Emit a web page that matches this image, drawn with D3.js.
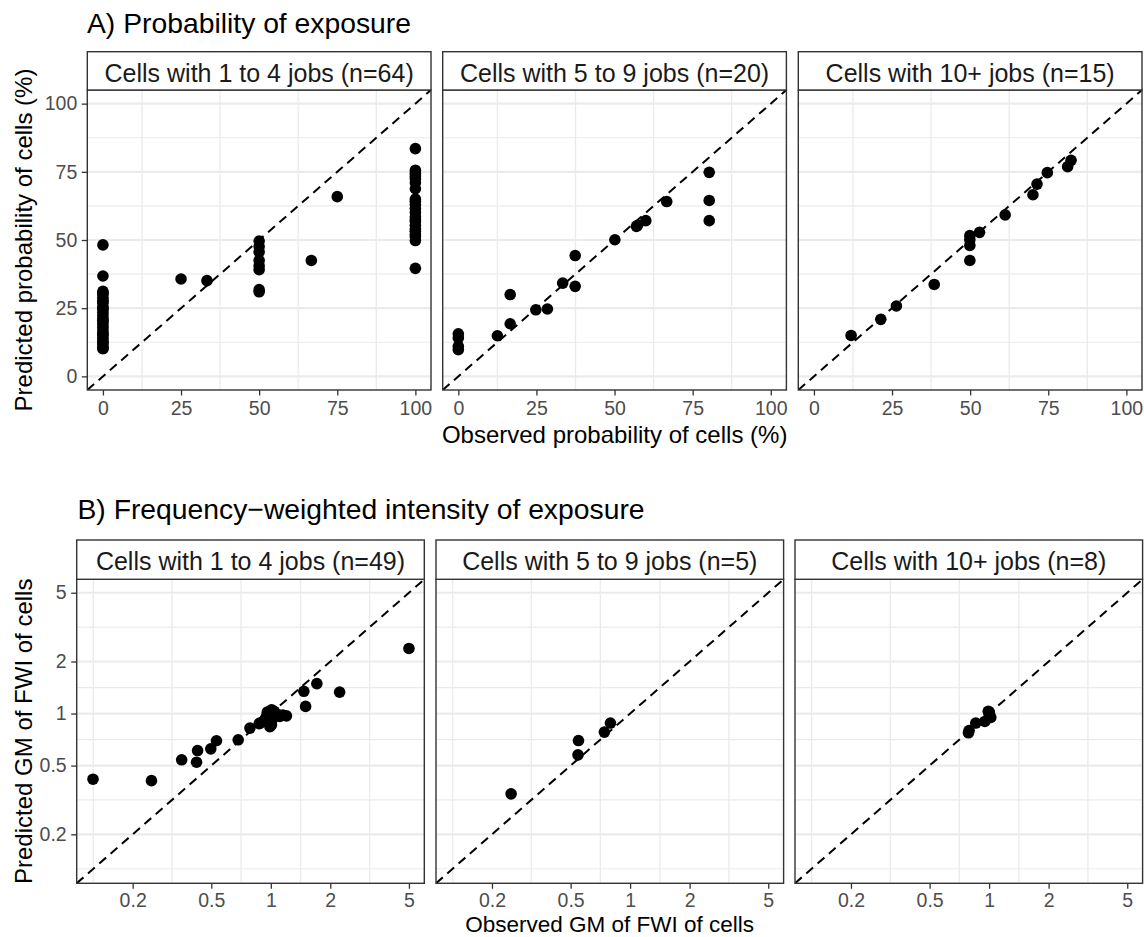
<!DOCTYPE html>
<html>
<head>
<meta charset="utf-8">
<script src="https://cdn.jsdelivr.net/npm/d3@7"></script>
<style>
  body { margin: 0; background: #fff; }
  svg text { font-family: "Liberation Sans", Arial, Helvetica, sans-serif; }
</style>
</head>
<body>
<div id="chart"></div>
<script>
// ---- data ----
const stripsA = ["Cells with 1 to 4 jobs (n=64)", "Cells with 5 to 9 jobs (n=20)", "Cells with 10+ jobs (n=15)"];
const stripsB = ["Cells with 1 to 4 jobs (n=49)", "Cells with 5 to 9 jobs (n=5)", "Cells with 10+ jobs (n=8)"];

const ticksA = [0, 25, 50, 75, 100];
const minorA = [12.5, 37.5, 62.5, 87.5];
const ticksB = [0.2, 0.5, 1, 2, 5];
const tickLabelsB = ["0.2", "0.5", "1", "2", "5"];
const minorB = [0.1265, 0.3162, 0.7071, 1.4142, 3.1623];

// A) probability, observed vs predicted (%)
const obsA1 = [0, 0, 0, 0, 0, 0, 0, 0, 0, 0, 0, 0, 0, 0, 0, 0, 0, 0, 0, 0, 0, 0, 0, 0, 0, 0, 0, 0, 0, 0,
  25, 33.3, 50, 50, 50, 50, 50, 50, 50, 50, 66.7, 75,
  100, 100, 100, 100, 100, 100, 100, 100, 100, 100, 100, 100, 100, 100, 100, 100, 100, 100, 100, 100, 100, 100];
const predA1 = [48.2, 36.8, 31.2, 30.5, 30.2, 29.0, 28.0, 27.5, 26.8, 25.5, 25.0, 24.5, 23.4, 22.3, 21.2, 20.5, 20.0, 19.0, 18.0, 17.0, 16.0, 15.5, 15.0, 14.0, 13.0, 12.5, 12.0, 11.0, 10.2, 10.2,
  35.7, 35.1, 49.6, 47.6, 45.6, 42.5, 40.5, 39.1, 31.8, 31.0, 42.5, 65.9,
  83.5, 75.6, 74.5, 73.5, 72.5, 71.0, 68.8, 65.0, 64.2, 63.0, 61.5, 60.1, 58.5, 57.5, 56.8, 55.4, 54.0, 53.2, 52.0, 51.3, 49.8, 39.6];

const obsA2 = [0, 0, 0, 0, 12.5, 16.6, 16.6, 24.8, 28.5, 33.4, 37.4, 37.4, 50.1, 57.0, 57.4, 60.0, 66.7, 80.3, 80.3, 80.3];
const predA2 = [15.6, 14.1, 11.0, 9.8, 14.9, 30.0, 19.3, 24.4, 24.7, 34.2, 44.3, 33.0, 50.1, 55.0, 55.4, 57.1, 64.1, 74.8, 64.5, 57.1];

const obsA3 = [11.9, 21.4, 26.4, 38.5, 49.9, 49.9, 49.9, 49.9, 53.0, 61.2, 70.1, 71.4, 74.7, 81.2, 82.3];
const predA3 = [15.0, 20.9, 25.8, 33.7, 42.5, 48.0, 50.1, 51.6, 52.8, 59.2, 66.6, 70.5, 74.7, 76.9, 79.2];

// B) GM of FWI, observed vs predicted
const obsB1 = [0.126, 0.249, 0.354, 0.421, 0.426, 0.497, 0.531, 0.684, 0.784, 0.873, 0.879, 0.951, 0.955, 0.989, 0.988,
  1.008, 0.99, 1.03, 1.04, 1.01, 1.11, 1.2, 1.47, 1.50, 1.71, 2.23, 5.0,
  1.0, 0.97, 1.02, 1.0, 1.05, 0.96, 1.1, 0.98, 1.0, 0.93, 1.06, 1.0, 0.99, 1.0, 1.03, 0.97, 1.0, 1.15, 0.92, 1.0, 1.01, 0.98];
const predB1 = [0.417, 0.409, 0.540, 0.523, 0.611, 0.625, 0.696, 0.705, 0.824, 0.873, 0.881, 0.963, 0.94, 1.007, 1.03,
  0.861, 0.84, 1.03, 1.03, 1.05, 0.962, 0.97, 1.345, 1.10, 1.49, 1.33, 2.38,
  1.0, 0.98, 0.93, 0.9, 1.0, 1.02, 0.98, 0.95, 1.04, 0.92, 0.97, 0.96, 0.99, 1.02, 0.99, 1.0, 0.87, 0.98, 0.9, 1.0, 0.98, 1.01];

const obsB2 = [0.25, 0.548, 0.545, 0.741, 0.795];
const predB2 = [0.343, 0.698, 0.577, 0.781, 0.881];

const obsB3 = [0.792, 0.786, 0.856, 0.951, 1.0, 1.003, 1.02, 0.99];
const predB3 = [0.798, 0.774, 0.881, 0.90, 0.984, 1.02, 0.95, 1.03];

// ---- layout ----
const W = 1144, H = 937;
const FONT_TICK = 19.5, FONT_STRIP = 25, FONT_TITLE = 28.3;
const GRID = "#EBEBEB", DARK = "#333333";

const svg = d3.select("#chart").append("svg")
  .attr("width", W).attr("height", H)
  .attr("viewBox", `0 0 ${W} ${H}`)
  .style("display", "block");
svg.append("rect").attr("width", W).attr("height", H).attr("fill", "#fff");

const rows = [
  {
    title: "A) Probability of exposure", titleX: 87, titleY: 33.3,
    lefts: [87.3, 442.7, 798.3], width: 343.7,
    stripTop: 51.7, top: 90, bottom: 390,
    strips: stripsA,
    obs: [obsA1, obsA2, obsA3], pred: [predA1, predA2, predA3],
    scale: () => d3.scaleLinear().domain([-5, 105]),
    ticks: ticksA, tickLabels: ticksA.map(String), minor: minorA, tickPad: 5.6,
    xTitle: "Observed probability of cells (%)", xTitleY: 442.7, xTitleSize: 24,
    yTitle: "Predicted probability of cells (%)"
  },
  {
    title: "B) Frequency\u2212weighted intensity of exposure", titleX: 77.5, titleY: 519,
    lefts: [76.7, 436, 795], width: 347.6,
    stripTop: 540, top: 579.3, bottom: 883.3,
    strips: stripsB,
    obs: [obsB1, obsB2, obsB3], pred: [predB1, predB2, predB3],
    scale: () => d3.scaleLog().domain([0.1042, 5.98]),
    ticks: ticksB, tickLabels: tickLabelsB, minor: minorB, tickPad: 4.4,
    xTitle: "Observed GM of FWI of cells", xTitleY: 932, xTitleSize: 22.5,
    yTitle: "Predicted GM of FWI of cells"
  }
];

rows.forEach((row, ri) => {
  const h = row.bottom - row.top;
  const w = row.width;

  svg.append("text")
    .attr("x", row.titleX).attr("y", row.titleY)
    .attr("font-size", FONT_TITLE).attr("fill", "#000")
    .text(row.title);

  row.lefts.forEach((left, pi) => {
    const x = row.scale().range([0, w]);
    const y = row.scale().range([h, 0]);
    const g = svg.append("g").attr("transform", `translate(${left},${row.top})`);

    const clipId = `clip-${ri}-${pi}`;
    g.append("clipPath").attr("id", clipId)
      .append("rect").attr("width", w).attr("height", h);

    const plot = g.append("g").attr("clip-path", `url(#${clipId})`);
    plot.append("rect").attr("width", w).attr("height", h).attr("fill", "#fff");

    // horizontal grid: minor then major
    plot.selectAll(".hminor").data(row.minor).enter().append("line")
      .attr("x1", 0).attr("x2", w)
      .attr("y1", d => y(d)).attr("y2", d => y(d))
      .attr("stroke", GRID).attr("stroke-width", 1.2);
    plot.selectAll(".hmajor").data(row.ticks).enter().append("line")
      .attr("x1", 0).attr("x2", w)
      .attr("y1", d => y(d)).attr("y2", d => y(d))
      .attr("stroke", GRID).attr("stroke-width", 2.2);
    // vertical grid: only the minor lines show in the figure
    plot.selectAll(".vminor").data(row.minor).enter().append("line")
      .attr("y1", 0).attr("y2", h)
      .attr("x1", d => x(d)).attr("x2", d => x(d))
      .attr("stroke", GRID).attr("stroke-width", 1.3);

    // identity line
    const dom = x.domain();
    plot.append("line")
      .attr("x1", x(dom[0])).attr("y1", y(dom[0]))
      .attr("x2", x(dom[1])).attr("y2", y(dom[1]))
      .attr("stroke", "#000").attr("stroke-width", 2)
      .attr("stroke-dasharray", "9,6");

    const pts = d3.zip(row.obs[pi], row.pred[pi]);
    plot.selectAll("circle").data(pts).enter().append("circle")
      .attr("cx", d => x(d[0])).attr("cy", d => y(d[1]))
      .attr("r", 5.8).attr("fill", "#000");

    g.append("rect").attr("width", w).attr("height", h)
      .attr("fill", "none").attr("stroke", DARK).attr("stroke-width", 1.4);

    // strip
    const sh = row.top - row.stripTop;
    g.append("rect").attr("y", -sh).attr("width", w).attr("height", sh)
      .attr("fill", "#fff").attr("stroke", DARK).attr("stroke-width", 1.4);
    g.append("text")
      .attr("x", w / 2).attr("y", -sh / 2 + 10.8)
      .attr("text-anchor", "middle")
      .attr("font-size", FONT_STRIP).attr("fill", "#1A1A1A")
      .text(row.strips[pi]);

    // x axis
    const xAxis = g.append("g").attr("transform", `translate(0,${h})`)
      .call(d3.axisBottom(x).tickValues(row.ticks)
        .tickFormat((d, i) => row.tickLabels[i])
        .tickSize(5.5).tickPadding(row.tickPad));
    xAxis.select(".domain").remove();
    xAxis.selectAll(".tick line").attr("stroke", DARK).attr("stroke-width", 1.3);
    xAxis.selectAll(".tick text").attr("font-size", FONT_TICK).attr("fill", "#4D4D4D")
      .attr("font-family", null);

    // y axis only on the first panel of each row
    if (pi === 0) {
      const yAxis = g.append("g")
        .call(d3.axisLeft(y).tickValues(row.ticks)
          .tickFormat((d, i) => row.tickLabels[i])
          .tickSize(5.5).tickPadding(4.5));
      yAxis.select(".domain").remove();
      yAxis.selectAll(".tick line").attr("stroke", DARK).attr("stroke-width", 1.3);
      yAxis.selectAll(".tick text").attr("font-size", FONT_TICK).attr("fill", "#4D4D4D")
        .attr("font-family", null);
    }
  });

  // axis titles
  const span = [row.lefts[0], row.lefts[2] + w];
  svg.append("text")
    .attr("x", (span[0] + span[1]) / 2).attr("y", row.xTitleY)
    .attr("text-anchor", "middle").attr("font-size", row.xTitleSize).attr("fill", "#000")
    .text(row.xTitle);
  svg.append("text")
    .attr("transform", `translate(31.5,${(row.top + row.bottom) / 2}) rotate(-90)`)
    .attr("text-anchor", "middle").attr("font-size", 24).attr("fill", "#000")
    .text(row.yTitle);
});
</script>
</body>
</html>
